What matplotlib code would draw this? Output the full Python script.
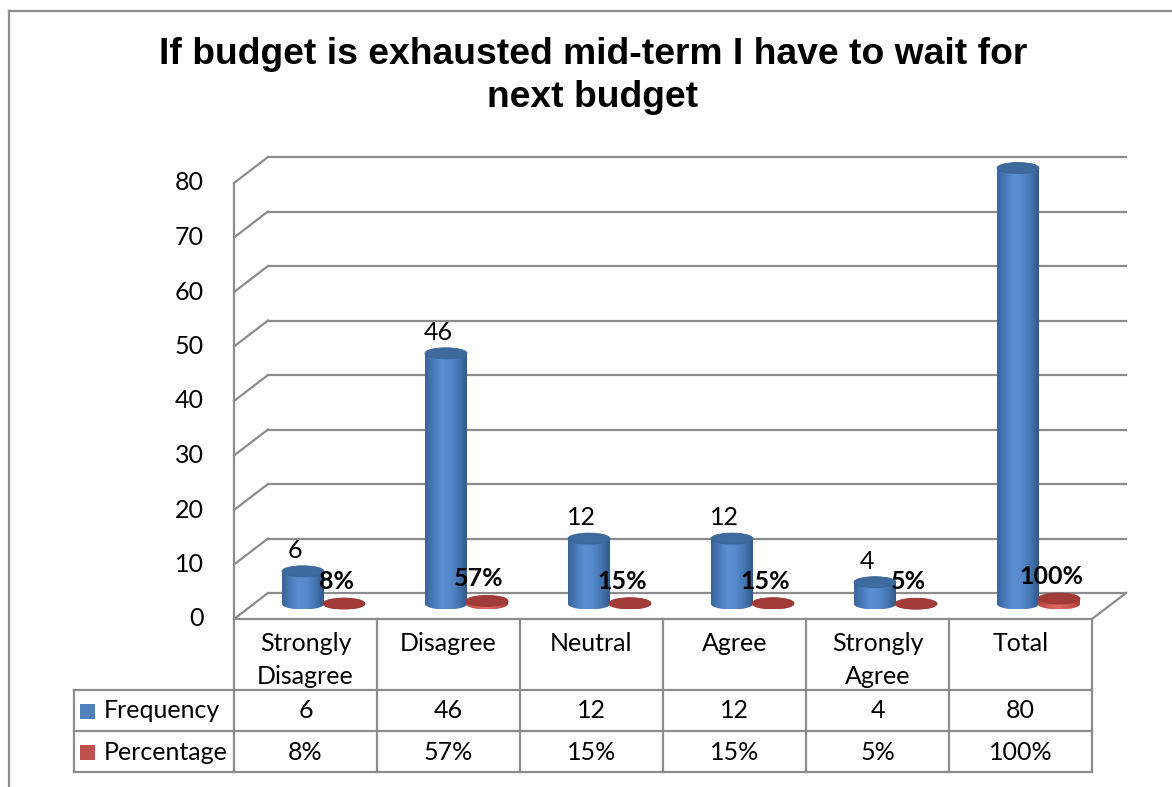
import numpy as np
import matplotlib
matplotlib.use("Agg")
import matplotlib.pyplot as plt
import matplotlib.transforms as mtransforms
from matplotlib.patches import Polygon, Ellipse, Rectangle
from matplotlib.colors import LinearSegmentedColormap

# ---------------- data ----------------
categories = ["Strongly\nDisagree", "Disagree", "Neutral", "Agree", "Strongly\nAgree", "Total"]
frequency = [6, 46, 12, 12, 4, 80]
percentage = [8, 57, 15, 15, 5, 100]          # percent
freq_labels = ["6", "46", "12", "12", "4", "80"]
pct_labels = ["8%", "57%", "15%", "15%", "5%", "100%"]
yticks = [0, 10, 20, 30, 40, 50, 60, 70, 80]
series_names = ["Frequency", "Percentage"]
title = "If budget is exhausted mid-term I have to wait for\nnext budget"

# ---------------- figure ----------------
W, H = 1172, 787
fig = plt.figure(figsize=(W / 100, H / 100), dpi=100)
FONT = "Lato"
FS = 18
GRID = "#8c8c8c"

def fy(py):
    return 1 - py / H

# front plane of the plot: x 234..1092 px, y 619 (0) .. 183 (80)
x_left, x_right, y_bot, y_top = 234, 1092, 619, 183
ax = fig.add_axes([x_left / W, fy(y_bot), (x_right - x_left) / W, (y_bot - y_top) / H])
ax.set_axis_off()
n = len(categories)
XMIN, XMAX = -0.5, n - 0.5
YMIN, YMAX = 0, 80
PX_X = (XMAX - XMIN) / (x_right - x_left)
PX_Y = (YMAX - YMIN) / (y_bot - y_top)
DX, DY = 34 * PX_X, 26 * PX_Y   # depth of the 3D box

# back wall gridlines + left wall diagonals
for v in yticks:
    ax.plot([XMIN + DX, XMAX + DX], [v + DY, v + DY], color=GRID, lw=1.6, zorder=1, clip_on=False)
    ax.plot([XMIN, XMIN + DX], [v, v + DY], color=GRID, lw=1.6, zorder=1, clip_on=False)
    ax.text(XMIN - 30 * PX_X, v, str(v), ha="right", va="center", fontsize=FS, family=FONT)
ax.plot([XMIN, XMIN], [YMIN, YMAX], color=GRID, lw=1.6, zorder=1, clip_on=False)
ax.plot([XMAX, XMAX + DX], [YMIN, YMIN + DY], color=GRID, lw=1.6, zorder=1, clip_on=False)

# cylinders
blue_cmap = LinearSegmentedColormap.from_list(
    "b", ["#3a659b", "#4a7cbb", "#5b90d3", "#5589cb", "#4676b2", "#33598b"])
red_cmap = LinearSegmentedColormap.from_list(
    "r", ["#b4443f", "#cf5a55", "#dd6a64", "#cd5752", "#ad403c"])
grad = np.linspace(0, 1, 64).reshape(1, -1)

BASE = (y_bot - 604) * PX_Y
CW = 42 * PX_X
EH_B = 11 * PX_Y
EH_R = 11 * PX_Y
OFF_B = -2.5 * PX_X
OFF_R = 38.5 * PX_X

def cylinder(cx, height, eh, cmap, topcolor, edgecolor):
    y0, y1 = BASE, BASE + height
    t = np.linspace(np.pi, 2 * np.pi, 50)
    bx = cx + CW / 2 * np.cos(t)
    by = y0 + eh / 2 * np.sin(t)
    verts = [(cx - CW / 2, y1)] + list(zip(bx, by)) + [(cx + CW / 2, y1)]
    poly = Polygon(verts, closed=True, facecolor="none", edgecolor="none", zorder=3,
                   clip_on=False)
    ax.add_patch(poly)
    im = ax.imshow(grad, extent=[cx - CW / 2, cx + CW / 2, y0 - eh / 2, y1],
                   aspect="auto", cmap=cmap, zorder=3, interpolation="bilinear")
    im.set_clip_box(fig.bbox)
    im.set_clip_path(poly)
    ax.add_patch(Ellipse((cx, y1), CW, eh, facecolor=topcolor, edgecolor=edgecolor,
                         lw=0.6, zorder=4, clip_on=False))

for i in range(n):
    cylinder(i + OFF_B, frequency[i], EH_B, blue_cmap, "#3f6a9e", "#3a6396")
    cylinder(i + OFF_R, percentage[i] / 100, EH_R, red_cmap, "#a13b37", "#9a3834")

for i in range(n):
    ax.annotate(freq_labels[i], xy=(i + OFF_B, BASE + frequency[i]), xytext=(-8, 21),
                textcoords="offset pixels", ha="center", va="center",
                fontsize=FS, family=FONT, zorder=6)
    ax.annotate(pct_labels[i], xy=(i + OFF_R, BASE + percentage[i] / 100), xytext=(-8, 22),
                textcoords="offset pixels", ha="center", va="center",
                fontsize=FS, family=FONT, fontweight="bold", zorder=6)

ax.set_xlim(XMIN, XMAX)
ax.set_ylim(YMIN, YMAX)

# ---------------- data table ----------------
tr = mtransforms.blended_transform_factory(ax.transData, fig.transFigure)
rows_py = [619, 690, 731, 772]
LEG_LEFT = XMIN - 160 * PX_X
ax.plot([XMIN, XMAX], [fy(rows_py[0])] * 2, transform=tr, color=GRID, lw=1.6, clip_on=False)
for py in rows_py[1:]:
    ax.plot([LEG_LEFT, XMAX], [fy(py)] * 2, transform=tr, color=GRID, lw=1.6, clip_on=False)
for b in np.arange(XMIN, XMAX + 0.01, 1.0):
    ax.plot([b, b], [fy(rows_py[0]), fy(rows_py[-1])], transform=tr, color=GRID, lw=1.6,
            clip_on=False)
ax.plot([LEG_LEFT, LEG_LEFT], [fy(rows_py[1]), fy(rows_py[-1])], transform=tr, color=GRID,
        lw=1.6, clip_on=False)

for i, c in enumerate(categories):
    ax.text(i, fy(632), c, transform=tr, ha="center", va="top", fontsize=FS, family=FONT,
            linespacing=1.55)
    ax.text(i, fy(711), freq_labels[i], transform=tr, ha="center", va="center",
            fontsize=FS, family=FONT)
    ax.text(i, fy(752), pct_labels[i], transform=tr, ha="center", va="center",
            fontsize=FS, family=FONT)

for name, col, py in [(series_names[0], "#4f81bd", 711), (series_names[1], "#c0504d", 752)]:
    fig.patches.append(Rectangle((80 / W, fy(py + 7.5)), 15 / W, 15 / H, transform=fig.transFigure,
                                 facecolor=col, edgecolor="none"))
    fig.text(104 / W, fy(py), name, ha="left", va="center", fontsize=FS, family=FONT)

# ---------------- title & frame ----------------
fig.text(593 / W, fy(76), title, ha="center", va="center", fontsize=26.8,
         family="Liberation Sans", fontweight="bold", linespacing=1.3)
fig.add_artist(plt.Line2D([8.5 / W, 1], [fy(10.5), fy(10.5)], transform=fig.transFigure,
                          color=GRID, lw=1.6))
fig.add_artist(plt.Line2D([8.5 / W, 8.5 / W], [fy(10.5), 0], transform=fig.transFigure,
                          color=GRID, lw=1.6))

fig.savefig("out.png", dpi=100, facecolor="white")
